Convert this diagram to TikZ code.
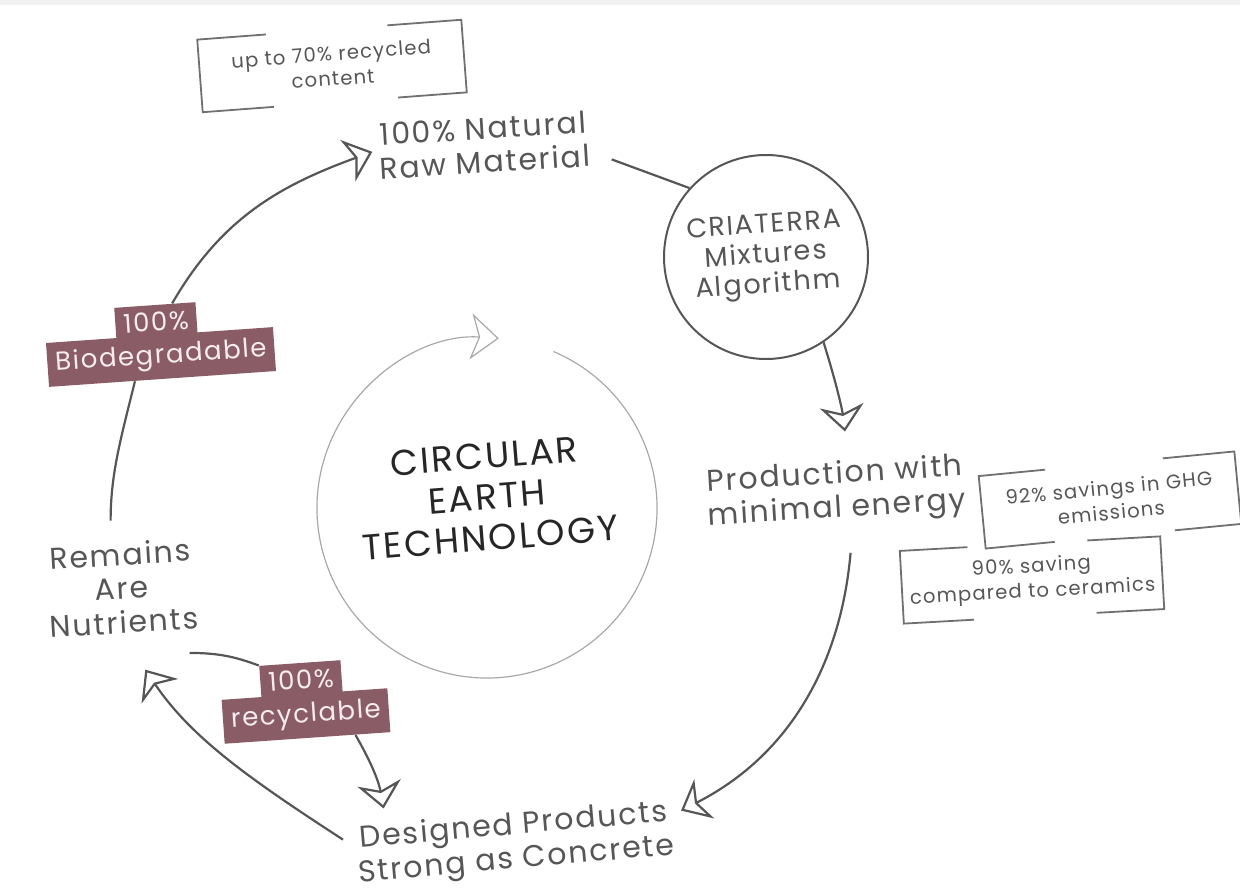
\documentclass[tikz,border=0pt]{standalone}
\usepackage{fontspec}
\setmainfont{Poppins}
\newfontfamily\stagefont[LetterSpace=6]{Poppins}
\newfontfamily\corefont[LetterSpace=6]{Poppins}
\usetikzlibrary{arrows.meta,calc}

\definecolor{ink}{HTML}{565656}
\definecolor{coreink}{HTML}{262626}
\definecolor{mauve}{HTML}{8A5D66}
\definecolor{blush}{HTML}{F7ECEF}
\definecolor{frame}{HTML}{707070}
\definecolor{faint}{HTML}{A8A8A8}
\definecolor{band}{HTML}{F1F1F1}

\newcommand{\brackets}[1]{%
  \draw[bracket] ($(#1.north west)!0.26!(#1.north east)$) -- (#1.north west)
    -- (#1.south west) -- ($(#1.south west)!0.27!(#1.south east)$);
  \draw[bracket] ($(#1.north east)!0.28!(#1.north west)$) -- (#1.north east)
    -- (#1.south east) -- ($(#1.south east)!0.26!(#1.south west)$);}

\begin{document}
\begin{tikzpicture}[x=0.5pt, y=0.5pt,
  stage/.style={text=ink, align=center, inner sep=3pt,
    font=\stagefont\fontsize{15}{17}\selectfont},
  note/.style={text=ink, align=center, minimum width=130pt, minimum height=36pt,
    font=\stagefont\fontsize{9.8}{12.5}\selectfont},
  tag/.style={fill=mauve, text=blush, rotate=4, inner xsep=4pt, inner ysep=0pt,
    minimum height=#1, font=\stagefont\fontsize{13}{13}\selectfont},
  tag/.default=22pt,
  bracket/.style={draw=frame, line width=0.9pt},
  link/.style={draw=ink, line width=1.1pt},
  flow/.style={link, -{Stealth[open, length=13pt, width=22pt, inset=4pt]}}]
  \useasboundingbox (0,0) rectangle (1240,894);
  \fill[band] (0,889) rectangle (1240,894);

  % the cycle
  \node[stage, rotate=3.5] (natural) at (484,749) {100\% Natural\\Raw Material};
  \node[circle, draw=ink, line width=1pt, minimum size=102pt, text=ink, align=center,
    rotate=4, font=\stagefont\fontsize{13.5}{15}\selectfont] (cria) at (766,637)
    {CRIATERRA\\Mixtures\\Algorithm};
  \node[stage, rotate=3.5] (prod) at (836,401) {Production with\\minimal energy};
  \node[stage, rotate=5] (designed) at (515,50) {Designed Products\\Strong as Concrete};
  \node[stage, rotate=3.5] (remains) at (122,306) {Remains\\Are\\Nutrients};

  % core
  \coordinate (hub) at (487,386);
  \node[text=coreink, align=center, rotate=4.5,
    font=\corefont\fontsize{18}{20.5}\selectfont] (core) at (487,397)
    {CIRCULAR\\EARTH\\TECHNOLOGY};
  \draw[faint, line width=0.6pt, -{Stealth[open, length=14pt, width=23pt, inset=4pt]}]
    ($(hub)+(67:170)$) arc[start angle=67, end angle=-274, radius=170];

  % notes
  \node[note, rotate=4.3, minimum width=132pt] (recycled) at (332,828) {up to 70\% recycled\\content};
  \brackets{recycled}
  \node[note, rotate=5.5, minimum width=128pt] (ghg) at (1110,394) {92\% savings in GHG\\emissions};
  \brackets{ghg}
  \node[note, rotate=3.2] (ceramics) at (1032,314) {90\% saving\\compared to ceramics};
  \brackets{ceramics}

  % tags
  \node[tag] (bio) at (161,537) {Biodegradable};
  \node[tag=17pt] (bio100) at (156,572) {100\%};
  \node[tag] (rec) at (306,178) {recyclable};
  \node[tag=17pt] (rec100) at (301,214) {100\%};

  % connectors
  \draw[flow] (bio100.45) to[out=60, in=200] (natural.west);
  \draw[link, shorten <=8pt] (natural.-8) -- (cria.134);
  \draw[flow, shorten >=11pt] (cria.-60) to[bend left=5] (prod.70);
  \draw[flow, shorten <=11pt, shorten >=2pt] (prod.-70) to[out=-95, in=27] (designed.6);
  \draw[flow, shorten <=4pt, shorten >=18pt] (designed.175) to[out=147, in=-56] (remains.south);
  \draw[link] ([xshift=-8pt, yshift=-9pt]remains.south east) to[bend left=10] (rec100.north west);
  \draw[flow, shorten >=4pt] (rec.-25) to[out=-60, in=100] (designed.163);
  \draw[link, shorten <=8pt] (remains.99) to[out=90, in=-104] (bio.-141);
\end{tikzpicture}
\end{document}
